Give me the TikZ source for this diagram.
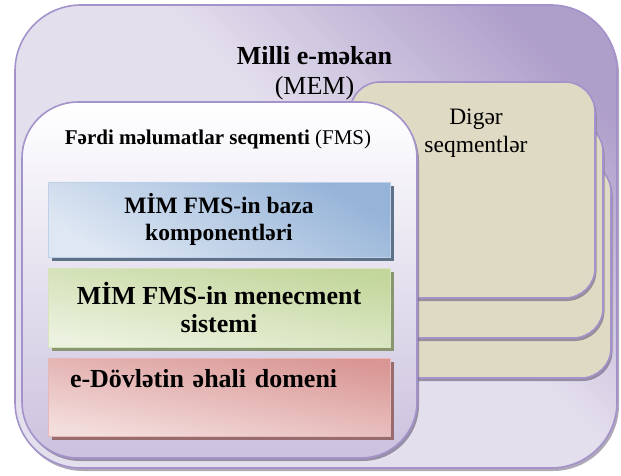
\documentclass[tikz,border=0pt]{standalone}
\usepackage{fontspec}
\setmainfont{Liberation Serif}
\usetikzlibrary{
  shadows, % for the drop shadows under the boxes
}
\definecolor{memlight}{RGB}{228,223,237}
\definecolor{memdark}{RGB}{174,158,202}
\definecolor{memline}{RGB}{164,146,202}
\definecolor{memshadow}{RGB}{120,110,135}
\definecolor{fmsbottom}{RGB}{203,194,222}
\definecolor{segfill}{RGB}{223,218,196}
\definecolor{bluedark}{RGB}{150,180,216}
\definecolor{bluelight}{RGB}{222,231,243}
\definecolor{blueline}{RGB}{190,208,232}
\definecolor{blueshadow}{RGB}{95,113,137}
\definecolor{greendark}{RGB}{195,214,155}
\definecolor{greenlight}{RGB}{236,242,224}
\definecolor{greenline}{RGB}{214,227,188}
\definecolor{greenshadow}{RGB}{138,150,112}
\definecolor{reddark}{RGB}{217,150,148}
\definecolor{redlight}{RGB}{243,222,221}
\definecolor{redline}{RGB}{230,185,184}
\definecolor{redshadow}{RGB}{152,108,108}
% light over most of the box, dark towards one corner
\pgfdeclareverticalshading{memshading}{100bp}{color(0bp)=(memlight); color(55bp)=(memlight);
  color(78bp)=(memdark); color(100bp)=(memdark)}
\tikzset{
  box/.style={ % common style for the rounded boxes
    rectangle,draw=memline,line width=1.6pt, % drawn with a purple outline
    inner sep=0pt,outer sep=0pt, % no padding, the size is set by hand
  },
  mem/.style={ % style for the national e-space
    box,rounded corners=66pt,
    shade,shading=memshading,shading angle=-45, % dark only in the top right
    drop shadow={shadow xshift=2pt,shadow yshift=-3pt,fill=memshadow,opacity=.6},
    minimum width=602pt,minimum height=463pt,
  },
  seg/.style={ % style for the other segments
    box,rounded corners=30pt,
    fill=segfill,
    drop shadow={shadow xshift=1.5pt,shadow yshift=-3pt,fill=memshadow,opacity=.7},
    minimum width=245pt,minimum height=216pt,
  },
  fms/.style={ % style for the personal data segment
    box,rounded corners=56pt,
    top color=white,bottom color=fmsbottom,
    drop shadow={shadow xshift=2pt,shadow yshift=-3pt,fill=memshadow,opacity=.7},
    minimum width=395pt,minimum height=356pt,
  },
  bar/.style={ % style for the bars inside the FMS box
    rectangle,line width=1pt,
    inner sep=0pt,outer sep=0pt,
    align=center,
    minimum width=342pt,
    font=\fontsize{26pt}{28.5pt}\selectfont\bfseries, % large bold text
  },
  title/.style={ % style for the plain labels
    inner sep=0pt,align=center,
  },
}

\begin{document}
\begin{tikzpicture}[x=1pt,y=-1pt]
	\useasboundingbox (0,0) rectangle (621,476);
	
	\node[mem] (mem) at (316,236.5) {};
	
	\node[seg] (seg3) at (488.5,270) {};
	
	\node[seg] (seg2) at (480.5,230) {};
	
	\node[seg] (seg1) at (472.5,190) {};
	
	\node[title,font=\fontsize{26pt}{30pt}\selectfont] (memt) at (314.5,73)
		{\textbf{Milli e-məkan}\\(MEM)};
	
	\node[title,font=\fontsize{23.5pt}{28pt}\selectfont] (segt) at (476,133.5) {Digər\\seqmentlər};
	
	\node[fms] (fms) at (219.5,280) {};
	
	\node[title,anchor=base,font=\fontsize{21pt}{25pt}\selectfont] (fmst) at (218,145)
		{\textbf{Fərdi məlumatlar seqmenti} (FMS)};
	
	\node[bar,draw=blueline,top color=bluedark,bottom color=bluelight,shading angle=-30,
		drop shadow={shadow xshift=4pt,shadow yshift=-4pt,fill=blueshadow,opacity=1},
		minimum height=75pt,font=\fontsize{23.5pt}{27pt}\selectfont\bfseries]
		(baza) at (219,219.5) {MİM FMS-in baza\\komponentləri};
	
	\node[bar,draw=greenline,top color=greendark,bottom color=greenlight,shading angle=-10,
		drop shadow={shadow xshift=4pt,shadow yshift=-4pt,fill=greenshadow,opacity=1},
		minimum height=79pt] (menecment) at (219,307.5) {MİM FMS-in menecment\\sistemi};
	
	\node[bar,draw=redline,top color=reddark,bottom color=redlight,shading angle=-10,
		drop shadow={shadow xshift=4pt,shadow yshift=-4pt,fill=redshadow,opacity=1},
		minimum height=78pt,text width=298pt,inner xsep=22pt,align=left,text depth=38pt]
		(domen) at (219,397) {e-Dövlətin əhali domeni};
\end{tikzpicture}
\end{document}
